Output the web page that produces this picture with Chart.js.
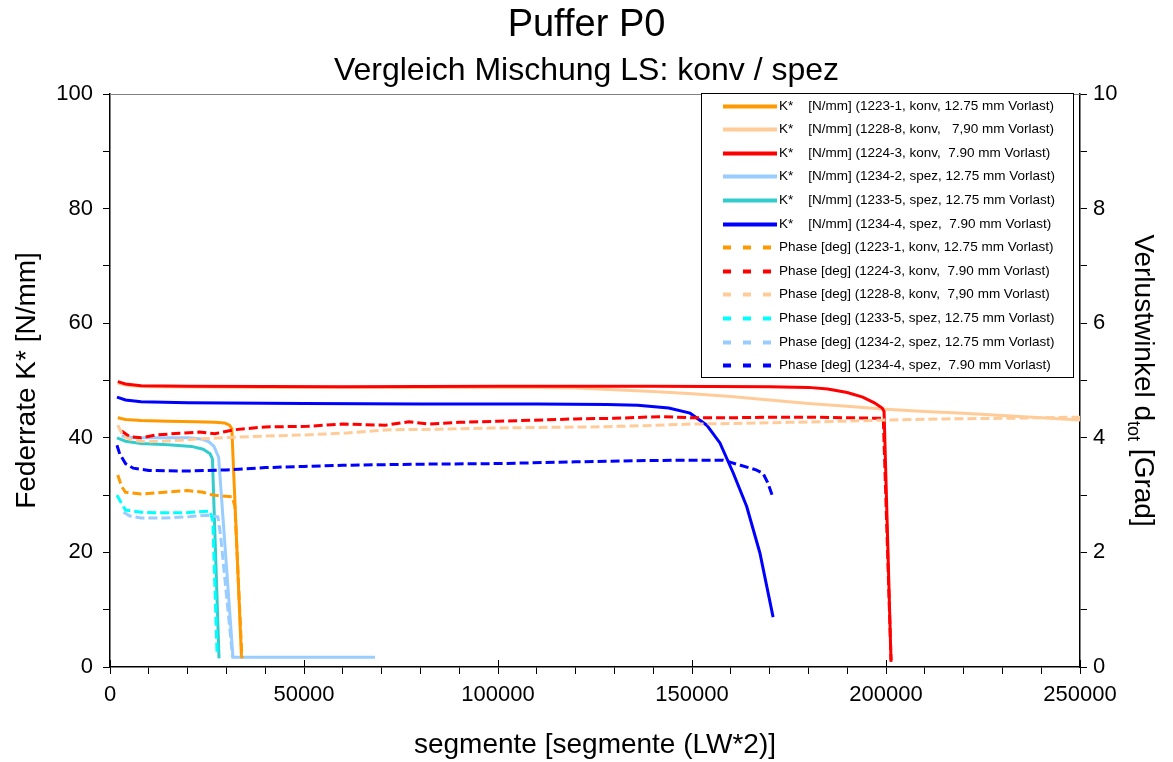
<!DOCTYPE html>
<html>
<head>
<meta charset="utf-8">
<title>Puffer P0</title>
<script src="https://cdn.jsdelivr.net/npm/chart.js@4.4.0/dist/chart.umd.min.js"></script>
<style>
  html, body { margin: 0; padding: 0; background: #fff; }
  #wrap { position: relative; width: 1173px; height: 762px; }
</style>
</head>
<body>
<div id="wrap"><canvas id="chart"></canvas></div>
<script>
// [segmente, K* in N/mm]  (left axis)
const k_1223_1 = [[2000,43.5],[4000,43.2],[8000,43.0],[15000,42.9],[22000,42.8],[27000,42.7],[29500,42.6],[30800,42.2],[31400,41.6],[33900,1.6]];
const k_1228_8 = [[2000,49.5],[5000,49.1],[10000,48.9],[40000,48.8],[80000,48.8],[110000,48.8],[120000,48.7],[130000,48.4],[140000,48.1],[150000,47.7],[160000,47.2],[170000,46.6],[180000,46.0],[190000,45.5],[200000,45.0],[210000,44.6],[220000,44.3],[230000,43.9],[240000,43.5],[250000,43.1]];
const k_1224_3 = [[2000,49.8],[4000,49.4],[8000,49.1],[20000,49.0],[60000,48.9],[100000,49.0],[140000,49.0],[170000,48.9],[180000,48.8],[185000,48.5],[190000,47.9],[194000,47.1],[197000,46.1],[199000,45.2],[199500,44.6],[201300,0.9]];
const k_1234_2 = [[3000,40.3],[6000,40.0],[12000,40.0],[20000,40.0],[23500,39.8],[25500,39.3],[26800,38.5],[28000,36.6],[31700,1.7],[68300,1.7]];
const k_1233_5 = [[1800,40.0],[4000,39.4],[8000,39.0],[15000,38.8],[21000,38.5],[24000,38.0],[25800,37.2],[26400,36.3],[28100,1.5]];
const k_1234_4 = [[1800,47.1],[4000,46.6],[8000,46.3],[20000,46.1],[50000,46.0],[80000,45.9],[110000,45.9],[128000,45.8],[136000,45.7],[144000,45.2],[149500,44.3],[153800,42.2],[157200,39.1],[160600,33.9],[164100,28.0],[167500,19.9],[170900,8.7]];

// [segmente, Phase in deg]  (right axis)
const ph_1223_1 = [[2000,3.35],[3000,3.15],[4000,3.05],[8000,3.02],[14000,3.05],[20000,3.08],[24000,3.05],[26500,3.0],[31500,2.97],[32200,2.8],[34000,0.15]];
const ph_1224_3 = [[3000,4.12],[5000,4.02],[8000,4.0],[12000,4.05],[18000,4.08],[23000,4.1],[27000,4.07],[32000,4.14],[40000,4.19],[51000,4.2],[60000,4.24],[71000,4.22],[77000,4.28],[82000,4.24],[90000,4.27],[100000,4.29],[106000,4.3],[120000,4.33],[130000,4.34],[142000,4.37],[150000,4.35],[160000,4.35],[170000,4.36],[180000,4.36],[190000,4.35],[199300,4.34],[201300,0.12]];
const ph_1228_8 = [[2000,4.22],[3500,4.02],[6000,3.95],[10000,3.93],[16000,3.95],[23000,3.98],[32000,4.01],[40000,4.03],[50000,4.05],[60000,4.08],[72000,4.14],[85000,4.15],[98000,4.17],[110000,4.18],[124000,4.19],[137000,4.21],[150000,4.24],[160000,4.25],[175000,4.27],[190000,4.29],[200000,4.31],[215000,4.33],[230000,4.34],[250000,4.36]];
const ph_1233_5 = [[1800,3.0],[3000,2.85],[4000,2.74],[8000,2.7],[12000,2.69],[19000,2.69],[23000,2.71],[25800,2.72],[26500,2.55],[27600,0.22]];
const ph_1234_2 = [[3500,2.7],[5000,2.64],[8000,2.6],[14000,2.6],[20000,2.62],[25000,2.65],[27800,2.62],[28500,2.3],[31600,0.17]];
const ph_1234_4 = [[1800,3.87],[2500,3.72],[4000,3.55],[6000,3.47],[10000,3.43],[20000,3.42],[30000,3.44],[40000,3.48],[50000,3.5],[60000,3.52],[80000,3.54],[100000,3.55],[120000,3.58],[135000,3.6],[150000,3.61],[158000,3.61],[162500,3.52],[166500,3.44],[168300,3.38],[169500,3.22],[170900,2.95]];

const legendLabels = [
  'K*    [N/mm] (1223-1, konv, 12.75 mm Vorlast)',
  'K*    [N/mm] (1228-8, konv,   7,90 mm Vorlast)',
  'K*    [N/mm] (1224-3, konv,  7.90 mm Vorlast)',
  'K*    [N/mm] (1234-2, spez, 12.75 mm Vorlast)',
  'K*    [N/mm] (1233-5, spez, 12.75 mm Vorlast)',
  'K*    [N/mm] (1234-4, spez,  7.90 mm Vorlast)',
  'Phase [deg] (1223-1, konv, 12.75 mm Vorlast)',
  'Phase [deg] (1224-3, konv,  7.90 mm Vorlast)',
  'Phase [deg] (1228-8, konv,  7,90 mm Vorlast)',
  'Phase [deg] (1233-5, spez, 12.75 mm Vorlast)',
  'Phase [deg] (1234-2, spez, 12.75 mm Vorlast)',
  'Phase [deg] (1234-4, spez,  7.90 mm Vorlast)'
];
const seriesData = [k_1223_1, k_1228_8, k_1224_3, k_1234_2, k_1233_5, k_1234_4,
                    ph_1223_1, ph_1224_3, ph_1228_8, ph_1233_5, ph_1234_2, ph_1234_4];
const seriesColors = ['#FF9900', '#FFCC99', '#FF0000', '#99CCFF', '#33CCCC', '#0000FF',
                      '#FF9900', '#FF0000', '#FFCC99', '#00FFFF', '#99CCFF', '#0000FF'];

const FONT = '"Liberation Sans", Arial, sans-serif';
Chart.defaults.font.family = FONT;
Chart.defaults.color = '#000';

const datasets = seriesData.map((pts, i) => {
  const phase = i >= 6;
  return {
    label: legendLabels[i],
    data: pts.map(p => ({ x: p[0], y: p[1] })),
    yAxisID: phase ? 'y1' : 'y',
    borderColor: seriesColors[i],
    backgroundColor: seriesColors[i],
    borderWidth: 3,
    borderDash: phase ? [9, 4] : [],
    pointRadius: 0,
    tension: 0,
    fill: false,
    order: seriesData.length - i   // later series drawn on top, like the original
  };
});

// plot frame (grey top line) + inner half of the major x ticks
const framePlugin = {
  id: 'frame',
  afterDraw(chart) {
    const { ctx, chartArea: a } = chart;
    ctx.save();
    ctx.strokeStyle = '#808080';
    ctx.lineWidth = 1;
    ctx.beginPath();
    ctx.moveTo(a.left, a.top + 0.5);
    ctx.lineTo(a.right, a.top + 0.5);
    ctx.stroke();
    ctx.strokeStyle = '#000';
    const xs = chart.scales.x;
    ctx.beginPath();
    xs.ticks.forEach(t => {
      if (t.value % 50000 === 0) {
        const px = Math.round(xs.getPixelForValue(t.value)) + 0.5;
        ctx.moveTo(px, a.bottom);
        ctx.lineTo(px, a.bottom - 7);
      }
    });
    ctx.stroke();
    ctx.restore();
  }
};

// legend box inside the plot, top right
const boxLegend = {
  id: 'boxLegend',
  afterDraw(chart) {
    const { ctx, chartArea: a } = chart;
    const w = 372, h = 284;
    const left = a.right - 379, top = a.top - 1;
    const rowH = 23.6;
    ctx.save();
    ctx.fillStyle = '#fff';
    ctx.fillRect(left, top, w, h);
    ctx.strokeStyle = '#000';
    ctx.lineWidth = 1;
    ctx.strokeRect(left + 0.5, top + 0.5, w, h);
    ctx.font = '13.5px ' + FONT;
    ctx.textBaseline = 'middle';
    chart.data.datasets.forEach((ds, i) => {
      const cy = Math.round(top + 12.5 + i * rowH) + 0.5;
      ctx.strokeStyle = ds.borderColor;
      ctx.lineWidth = 4;
      ctx.setLineDash(ds.borderDash.length ? [8, 12] : []);
      ctx.beginPath();
      ctx.moveTo(left + 22, cy);
      ctx.lineTo(left + 76, cy);
      ctx.stroke();
      ctx.setLineDash([]);
      ctx.fillStyle = '#000';
      ctx.fillText(ds.label, left + 78, cy);
    });
    ctx.restore();
  }
};

// right axis title with subscript
const rtMain = 'Verlustwinkel d', rtSub = 'tot', rtTail = ' [Grad]';
const rightTitle = {
  id: 'rightTitle',
  afterDraw(chart) {
    const s = chart.scales.y1;
    const ctx = chart.ctx;
    const big = '28px ' + FONT, small = '18px ' + FONT;
    ctx.save();
    ctx.font = big;
    const w1 = ctx.measureText(rtMain).width;
    const w3 = ctx.measureText(rtTail).width;
    ctx.font = small;
    const w2 = ctx.measureText(rtSub).width;
    const total = w1 + w2 + w3;
    ctx.translate(s.right - 30, (s.top + s.bottom) / 2);
    ctx.rotate(Math.PI / 2);
    ctx.fillStyle = '#000';
    ctx.textBaseline = 'alphabetic';
    let x = -total / 2;
    ctx.font = big;  ctx.fillText(rtMain, x, 8); x += w1;
    ctx.font = small; ctx.fillText(rtSub, x, 15); x += w2;
    ctx.font = big;  ctx.fillText(rtTail, x, 8);
    ctx.restore();
  }
};

const tickGrid = { drawOnChartArea: false, drawTicks: true, tickLength: 7, color: '#000', tickColor: '#000' };

new Chart(document.getElementById('chart'), {
  type: 'line',
  data: { datasets },
  options: {
    responsive: true,
    maintainAspectRatio: false,
    animation: false,
    layout: { padding: 0 },
    plugins: {
      legend: { display: false },
      tooltip: { enabled: false },
      title: {
        display: true, text: 'Puffer P0', color: '#000',
        font: { size: 38, weight: 'normal' }, padding: { top: 3, bottom: 0 }
      },
      subtitle: {
        display: true, text: 'Vergleich Mischung LS: konv / spez', color: '#000',
        font: { size: 32, weight: 'normal' }, padding: { top: 3, bottom: 4 }
      }
    },
    scales: {
      x: {
        type: 'linear', min: 0, max: 250000,
        ticks: {
          stepSize: 10000, autoSkip: false, maxRotation: 0, padding: 8,
          font: { size: 22 },
          callback: v => (v % 50000 === 0 ? String(v) : '')
        },
        grid: tickGrid,
        border: { color: '#000', width: 1.5 },
        title: { display: true, text: 'segmente [segmente (LW*2)]', font: { size: 28 }, padding: 0 },
        afterFit: s => { s.height = 95; }
      },
      y: {
        position: 'left', min: 0, max: 100,
        ticks: {
          stepSize: 10, padding: 10, font: { size: 22 },
          callback: v => (v % 20 === 0 ? String(v) : '')
        },
        grid: tickGrid,
        border: { color: '#000', width: 1.5 },
        title: { display: true, text: 'Federrate K* [N/mm]', font: { size: 28 }, padding: { top: 10, bottom: 0 } },
        afterFit: s => { s.width = 110; }
      },
      y1: {
        position: 'right', min: 0, max: 10,
        ticks: {
          stepSize: 0.5, padding: 6, font: { size: 22 },
          callback: v => (Math.abs(v / 2 - Math.round(v / 2)) < 1e-6 ? String(Math.round(v)) : '')
        },
        grid: tickGrid,
        border: { color: '#000', width: 1.5 },
        afterFit: s => { s.width = 93; }
      }
    }
  },
  plugins: [framePlugin, boxLegend, rightTitle]
});
</script>
</body>
</html>
